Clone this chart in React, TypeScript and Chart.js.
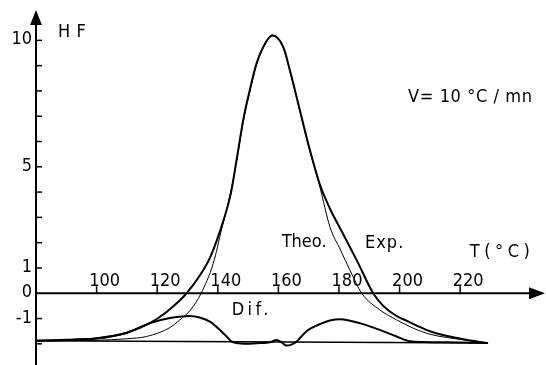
import React, { useEffect, useRef } from 'react';
import { Chart, registerables } from 'chart.js';

Chart.register(...registerables);

// ---- data (T in °C, HF in arbitrary units) ----
const expT = [80, 90, 100, 110, 117.6, 123, 127.5, 129.7, 133.5, 137.4, 141.8, 144.4, 146.2, 148.4, 150.5, 152.8, 155, 158, 161.6, 163.8, 167.1, 170.4, 173.7, 177, 180.9, 185.8, 191.3, 194.6, 199, 202.3, 206, 210, 221, 229.2];
const expHF = [-1.88, -1.84, -1.78, -1.56, -1.18, -0.75, -0.28, 0, 0.6, 1.4, 2.85, 4.0, 5.27, 6.85, 8.0, 9.09, 9.74, 10.2, 9.74, 8.82, 7.24, 5.66, 4.3, 3.35, 2.45, 1.32, 0, -0.5, -0.9, -1.08, -1.3, -1.5, -1.82, -1.97];

const theoT = [80, 100, 110, 116.5, 124, 127.5, 131, 134.5, 138.5, 141.3, 143.5, 146.2, 148.4, 150.5, 152.8, 155, 158, 161.6, 163.8, 167.1, 170.4, 173.7, 177, 180.5, 183.6, 187.5, 193.5, 199, 204.5, 210, 221, 229.2];
const theoHF = [-1.88, -1.86, -1.80, -1.71, -1.37, -1.05, -0.66, 0, 1.18, 2.55, 3.6, 5.2, 6.8, 7.95, 9.05, 9.7, 10.17, 9.7, 8.78, 7.2, 5.62, 4.2, 2.63, 1.71, 0.92, 0, -0.66, -1.05, -1.38, -1.62, -1.84, -1.97];

const difT = [80, 90, 100, 110, 117.6, 124.2, 128, 130.8, 134, 137.4, 140.7, 142.9, 144.6, 147, 150.6, 154, 157.2, 159.4, 161, 162.7, 164.5, 166, 169.3, 173.7, 177, 180.3, 184, 188, 193.5, 199, 203.4, 208, 215, 229.2];
const difHF = [-1.88, -1.85, -1.79, -1.56, -1.18, -0.98, -0.92, -0.90, -0.96, -1.12, -1.45, -1.71, -1.91, -1.98, -2.0, -1.97, -1.94, -1.85, -1.93, -2.07, -2.02, -1.91, -1.5, -1.22, -1.08, -1.03, -1.1, -1.22, -1.45, -1.71, -1.9, -1.93, -1.94, -1.97];

const baseT = [80, 229.2];
const baseHF = [-1.88, -1.97];

const xTicks = [100, 120, 140, 160, 180, 200, 220];
const xTickLabels = ['100', '120', '140', '160', '180', '200', '220'];
const yTicks = [-2, -1, 1, 2, 3, 4, 5, 6, 7, 8, 9, 10];
const yLabelValues = [10, 5, 1, 0, -1];
const yLabelTexts = ['10', '5', '1', '0', '-1'];

const X_MIN = 80;
const X_MAX = 248;
const Y_MIN = -2.6;
const Y_MAX = 11.2;

// text notes anchored in data coordinates (left edge, baseline)
const notes = [
  { text: 'H F', x: 87.3, y: 10.13, spacing: 0.5 },
  { text: 'V= 10 °C / mn', x: 202.8, y: 7.56, spacing: 0.6 },
  { text: 'Theo.', x: 161.1, y: 1.84, spacing: 0 },
  { text: 'Exp.', x: 188.6, y: 1.79, spacing: 1 },
  { text: 'T(°C)', x: 223.2, y: 1.43, spacing: 4.5 },
  { text: 'Dif.', x: 144.6, y: -0.86, spacing: 3.4 },
];

const FONT = '18px "DejaVu Sans Condensed", "Liberation Sans", sans-serif';

const toXY = (xs: number[], ys: number[]) => xs.map((v, i) => ({ x: v, y: ys[i] }));

const axesPlugin = {
  id: 'handAxes',
  afterDatasetsDraw(chart: any) {
    const { ctx } = chart;
    const xs = chart.scales.x;
    const ys = chart.scales.y;
    const x0 = xs.getPixelForValue(X_MIN);
    const xEnd = xs.getPixelForValue(X_MAX);
    const y0 = ys.getPixelForValue(0);
    const yTop = ys.getPixelForValue(Y_MAX);
    ctx.save();
    ctx.strokeStyle = '#000';
    ctx.fillStyle = '#000';
    ctx.lineCap = 'butt';

    // x axis
    ctx.lineWidth = 2;
    ctx.beginPath();
    ctx.moveTo(x0, y0);
    ctx.lineTo(xEnd - 12, y0);
    ctx.stroke();
    ctx.beginPath();
    ctx.moveTo(xEnd, y0);
    ctx.lineTo(xEnd - 16, y0 - 6);
    ctx.lineTo(xEnd - 16, y0 + 6);
    ctx.closePath();
    ctx.fill();

    // y axis
    ctx.beginPath();
    ctx.moveTo(x0, chart.height);
    ctx.lineTo(x0, yTop + 12);
    ctx.stroke();
    ctx.beginPath();
    ctx.moveTo(x0, yTop);
    ctx.lineTo(x0 - 6, yTop + 15);
    ctx.lineTo(x0 + 6, yTop + 15);
    ctx.closePath();
    ctx.fill();

    // ticks
    ctx.lineWidth = 1.5;
    xTicks.forEach((t) => {
      const px = xs.getPixelForValue(t);
      ctx.beginPath();
      ctx.moveTo(px, y0);
      ctx.lineTo(px, y0 - 7);
      ctx.stroke();
    });
    yTicks.forEach((t) => {
      const py = ys.getPixelForValue(t);
      ctx.beginPath();
      ctx.moveTo(x0, py);
      ctx.lineTo(x0 + 6, py);
      ctx.stroke();
    });

    // tick labels
    ctx.font = FONT;
    ctx.textBaseline = 'alphabetic';
    ctx.textAlign = 'center';
    xTicks.forEach((t, i) => {
      const px = xs.getPixelForValue(t);
      ctx.fillText(xTickLabels[i], px + 8, y0 - 7);
    });
    ctx.textAlign = 'right';
    yLabelValues.forEach((v, i) => {
      const py = ys.getPixelForValue(v);
      ctx.fillText(yLabelTexts[i], x0 - 4, py + 4);
    });

    // notes
    ctx.textAlign = 'left';
    notes.forEach((n) => {
      (ctx as any).letterSpacing = `${n.spacing}px`;
      ctx.fillText(n.text, xs.getPixelForValue(n.x), ys.getPixelForValue(n.y));
    });
    (ctx as any).letterSpacing = '0px';
    ctx.restore();
  },
};

export default function App() {
  const ref = useRef<HTMLCanvasElement | null>(null);

  useEffect(() => {
    if (!ref.current) return;
    const common = {
      borderColor: '#000',
      pointRadius: 0,
      fill: false,
      cubicInterpolationMode: 'monotone' as const,
    };
    const chart = new Chart(ref.current, {
      type: 'line',
      data: {
        datasets: [
          { ...common, label: 'Base', data: toXY(baseT, baseHF), borderWidth: 1.5, tension: 0 },
          { ...common, label: 'Theo.', data: toXY(theoT, theoHF), borderWidth: 1 },
          { ...common, label: 'Exp.', data: toXY(expT, expHF), borderWidth: 2 },
          { ...common, label: 'Dif.', data: toXY(difT, difHF), borderWidth: 2 },
        ],
      },
      options: {
        animation: false,
        responsive: false,
        devicePixelRatio: 1,
        layout: { padding: { left: 36, right: 1, top: 10, bottom: 6 } },
        plugins: { legend: { display: false }, tooltip: { enabled: false } },
        scales: {
          x: { type: 'linear', min: X_MIN, max: X_MAX, display: false },
          y: { type: 'linear', min: Y_MIN, max: Y_MAX, display: false },
        },
      },
      plugins: [axesPlugin],
    });
    return () => chart.destroy();
  }, []);

  return (
    <div style={{ position: 'fixed', left: 0, top: 0, width: 546, height: 365, background: '#fff' }}>
      <canvas ref={ref} width={546} height={365} />
    </div>
  );
}
